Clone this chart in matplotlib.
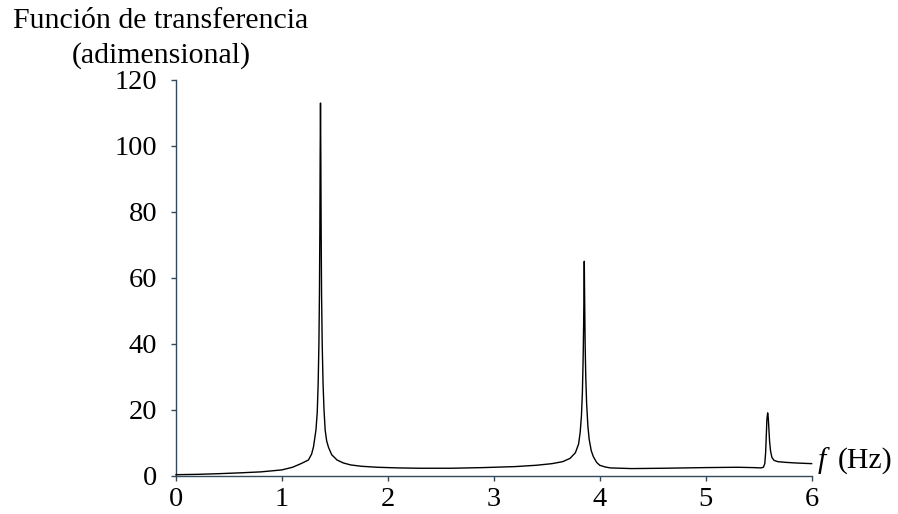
import matplotlib
matplotlib.use("Agg")
import matplotlib.pyplot as plt

# -------------------------------------------------------
# Transfer function (f in Hz)
# -------------------------------------------------------
freq = [
    0.0, 0.2, 0.4, 0.6, 0.8, 1.0, 1.1, 1.18, 1.25, 1.28, 1.298, 1.321,
    1.333, 1.342, 1.349, 1.354, 1.358, 1.361, 1.364, 1.367, 1.37, 1.374,
    1.38, 1.388, 1.397, 1.408, 1.422, 1.44, 1.47, 1.52, 1.58, 1.65, 1.75,
    1.9, 2.1, 2.3, 2.6, 2.9, 3.2, 3.4, 3.55, 3.65, 3.72, 3.77, 3.8, 3.815,
    3.827, 3.836, 3.843, 3.848, 3.852, 3.854, 3.857, 3.862, 3.868, 3.876,
    3.888, 3.9, 3.92, 3.94, 3.97, 4.0, 4.05, 4.1, 4.3, 4.6, 5.0, 5.3, 5.45,
    5.52, 5.545, 5.558, 5.566, 5.572, 5.578, 5.585, 5.591, 5.597, 5.603,
    5.612, 5.625, 5.645, 5.68, 5.75, 5.85, 6.0,
]
gain = [
    0.25, 0.35, 0.55, 0.8, 1.1, 1.7, 2.5, 3.6, 4.7, 6.5, 8.7, 13.8,
    19, 28, 40, 55, 75, 98, 113, 97, 75, 55,
    40, 28, 20, 13.8, 10.5, 8.5, 6.3, 4.7, 3.8, 3.2, 2.8,
    2.5, 2.3, 2.2, 2.2, 2.4, 2.7, 3.1, 3.6, 4.2, 5.2, 6.9, 9.5, 13,
    18, 25, 35, 46, 58, 65, 55, 40, 30, 22,
    15, 11, 7.5, 5.7, 4.0, 3.1, 2.6, 2.3, 2.1, 2.2, 2.4, 2.5, 2.4,
    2.3, 2.5, 3.6, 7, 12, 17, 19, 17.5, 14, 10.5,
    7.5, 5.5, 4.6, 4.2, 4.0, 3.8, 3.6,
]

x_ticks = [0, 1, 2, 3, 4, 5, 6]
y_ticks = [0, 20, 40, 60, 80, 100, 120]

AXIS_COLOR = "#34495a"
FONT = "Liberation Serif"

plt.rcParams["font.family"] = [FONT, "DejaVu Serif"]

fig = plt.figure(figsize=(8.98, 5.14), dpi=100)
fig.patch.set_facecolor("white")
ax = fig.add_axes([0.196, 0.0749, 0.7078, 0.7695])

ax.plot(freq, gain, color="black", linewidth=1.0, clip_on=False, zorder=3)

ax.set_xlim(0, 6)
ax.set_ylim(0, 120)
ax.set_xticks(x_ticks)
ax.set_yticks(y_ticks)
ax.tick_params(axis="both", direction="out", length=3.5, width=1.0,
               color=AXIS_COLOR, labelsize=20.5, labelcolor="black")
ax.tick_params(axis="y", pad=10)
ax.tick_params(axis="x", pad=5)

for side in ["top", "right"]:
    ax.spines[side].set_visible(False)
for side in ["left", "bottom"]:
    ax.spines[side].set_color(AXIS_COLOR)
    ax.spines[side].set_linewidth(1.0)

# axis titles
fig.text(161 / 898, 1 - 28.3 / 514, "Función de transferencia",
         ha="center", va="baseline", fontsize=21.5)
fig.text(161 / 898, 1 - 63 / 514, "(adimensional)",
         ha="center", va="baseline", fontsize=21.5)

ax.text(6.06, 2.3, "f", style="italic", fontsize=21.5,
        ha="left", va="baseline", clip_on=False)
ax.text(6.25, 2.3, "(Hz)", fontsize=21.5,
        ha="left", va="baseline", clip_on=False)

plt.savefig("out.png", dpi=100, facecolor=fig.get_facecolor())
plt.close()
